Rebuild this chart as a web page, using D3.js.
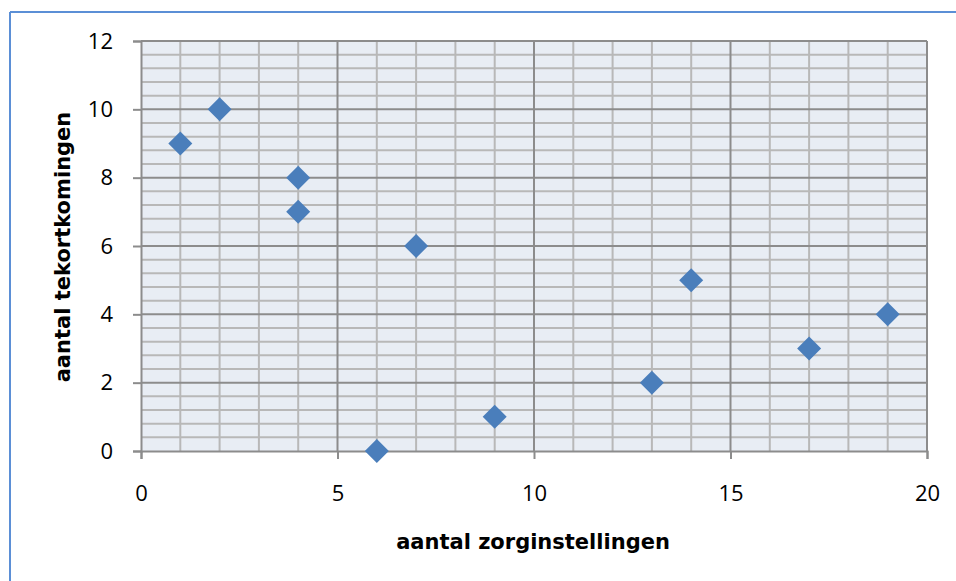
<!DOCTYPE html>
<html>
<head>
  <title>tekortkomingen</title>
</head>
<style>
  body {
    margin: 0;
    background: #ffffff;
  }
  .axis-title {
    font-family: "DejaVu Sans", Verdana, sans-serif;
    font-size: 21px;
    font-weight: bold;
    fill: #000;
  }
</style>
<body>
  <script src="https://d3js.org/d3.v7.min.js"></script>
  <script>
    // scatter: zorginstellingen vs tekortkomingen
    const zorginstellingen = [1, 2, 4, 4, 6, 7, 9, 13, 14, 17, 19];
    const tekortkomingen = [9, 10, 8, 7, 0, 6, 1, 2, 5, 3, 4];
    const xTicks = [0, 5, 10, 15, 20];
    const yTicks = [0, 2, 4, 6, 8, 10, 12];
    const xTitle = "aantal zorginstellingen";
    const yTitle = "aantal tekortkomingen";

    const w = 956;
    const h = 581;
    const pLeft = 141, pRight = 927, pTop = 41, pBottom = 451;

    const svg = d3.select("body")
                  .append("svg")
                  .attr("width", w)
                  .attr("height", h);

    // frame (only top and left visible in the picture)
    svg.append("line")
       .attr("x1", 10).attr("x2", w).attr("y1", 12).attr("y2", 12)
       .attr("stroke", "#5b8fd6").attr("stroke-width", 2);
    svg.append("line")
       .attr("x1", 10).attr("x2", 10).attr("y1", 12).attr("y2", h)
       .attr("stroke", "#5b8fd6").attr("stroke-width", 2);

    const x = d3.scaleLinear().domain([0, 20]).range([pLeft, pRight]);
    const y = d3.scaleLinear().domain([0, 12]).range([pBottom, pTop]);

    svg.append("rect")
       .attr("x", pLeft).attr("y", pTop)
       .attr("width", pRight - pLeft).attr("height", pBottom - pTop)
       .attr("fill", "#e8edf4");

    // minor grid
    const g = svg.append("g");
    g.selectAll(".vminor")
     .data(d3.range(1, 20).filter(d => d % 5 != 0))
     .join("line")
       .attr("x1", d => x(d)).attr("x2", d => x(d))
       .attr("y1", pTop).attr("y2", pBottom)
       .attr("stroke", "#b8b8b8").attr("stroke-width", 2);
    g.selectAll(".hminor")
     .data(d3.range(0, 30).filter(d => d % 5 != 0).map(d => d * 0.4))
     .join("line")
       .attr("x1", pLeft).attr("x2", pRight)
       .attr("y1", d => y(d)).attr("y2", d => y(d))
       .attr("stroke", "#b8b8b8").attr("stroke-width", 2);

    // major grid
    g.selectAll(".vmajor")
     .data(xTicks.slice(1))
     .join("line")
       .attr("x1", d => x(d)).attr("x2", d => x(d))
       .attr("y1", pTop).attr("y2", pBottom)
       .attr("stroke", "#8c8c8c").attr("stroke-width", 2);
    g.selectAll(".hmajor")
     .data(yTicks.slice(1))
     .join("line")
       .attr("x1", pLeft).attr("x2", pRight)
       .attr("y1", d => y(d)).attr("y2", d => y(d))
       .attr("stroke", "#8c8c8c").attr("stroke-width", 2);

    // axes
    const xAxis = svg.append("g")
       .attr("transform", "translate(0," + pBottom + ")")
       .call(d3.axisBottom(x).tickValues(xTicks).tickSize(8).tickPadding(26));
    const yAxis = svg.append("g")
       .attr("transform", "translate(" + pLeft + ",0)")
       .call(d3.axisLeft(y).tickValues(yTicks).tickSize(8).tickPadding(20));

    [xAxis, yAxis].forEach(a => {
      a.attr("font-size", 22).attr("font-family", "'Open Sans', 'Liberation Sans', sans-serif");
      a.select(".domain").attr("stroke", "#8c8c8c").attr("stroke-width", 2);
      a.selectAll(".tick line").attr("stroke", "#8c8c8c").attr("stroke-width", 2);
      a.selectAll(".tick text").attr("fill", "#000");
    });

    // points
    svg.selectAll(".pt")
       .data(zorginstellingen.map((d, i) => [d, tekortkomingen[i]]))
       .join("path")
         .attr("class", "pt")
         .attr("transform", d => "translate(" + x(d[0]) + "," + y(d[1]) + ")")
         .attr("d", "M0,-12L12,0L0,12L-12,0Z")
         .attr("fill", "#4a7ebb");

    svg.append("text")
       .attr("class", "axis-title")
       .attr("x", 533)
       .attr("y", 549)
       .attr("text-anchor", "middle")
       .text(xTitle);

    svg.append("text")
       .attr("class", "axis-title")
       .attr("transform", "translate(70,247) rotate(-90)")
       .attr("text-anchor", "middle")
       .text(yTitle);
  </script>
</body>
</html>
